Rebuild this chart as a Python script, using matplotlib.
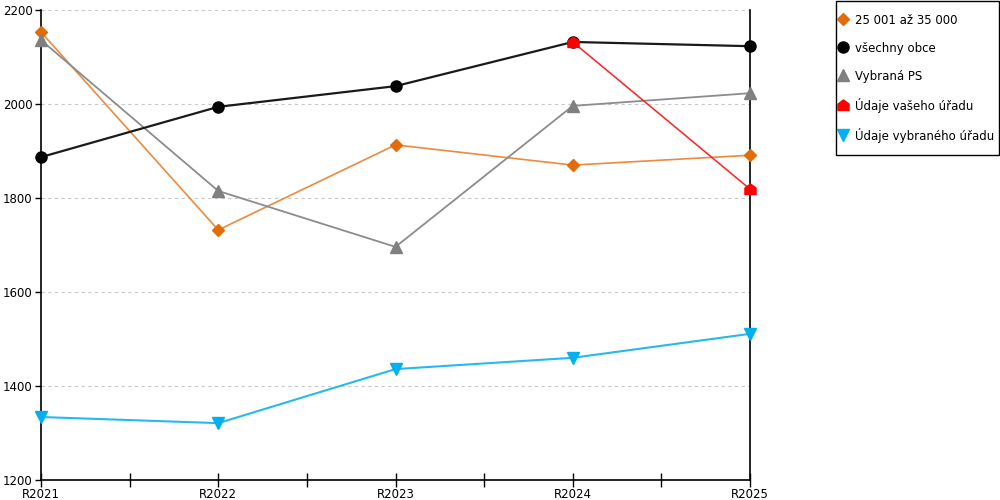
import matplotlib
matplotlib.use("Agg")
import matplotlib.pyplot as plt
from matplotlib.path import Path
from matplotlib.lines import Line2D
from matplotlib.patches import Rectangle

categories = ["R2021", "R2022", "R2023", "R2024", "R2025"]
s_orange = [2153, 1732, 1913, 1870, 1891]
s_black = [1887, 1994, 2038, 2132, 2123]
s_gray = [2136, 1815, 1696, 1996, 2023]
s_red = [None, None, None, 2132, 1819]
s_blue = [1334, 1321, 1436, 1460, 1511]

labels = ["25 001 až 35 000", "všechny obce", "Vybraná PS",
          "Údaje vašeho úřadu", "Údaje vybraného úřadu"]
yticks = [1200, 1400, 1600, 1800, 2000, 2200]

house = Path([(-1, -0.9), (1, -0.9), (1, 0.25), (0, 1), (-1, 0.25), (-1, -0.9)],
             [Path.MOVETO, Path.LINETO, Path.LINETO, Path.LINETO, Path.LINETO, Path.CLOSEPOLY])

plt.rcParams['font.family'] = ['DejaVu Sans']
fig = plt.figure(figsize=(10, 5), dpi=100)
ax = fig.add_axes([0.041, 0.04, 0.709, 0.94])

x = list(range(len(categories)))
ax.plot(x, s_orange, color="#EC8A3E", lw=1.2, marker="D", ms=6,
        mfc="#E36C0A", mec="#E36C0A", zorder=3, clip_on=False)
ax.plot(x, s_black, color="#1a1a1a", lw=1.6, marker="o", ms=8,
        mfc="black", mec="black", zorder=4, clip_on=False)
ax.plot(x, s_gray, color="#8c8c8c", lw=1.3, marker="^", ms=8,
        mfc="#808080", mec="#808080", zorder=3, clip_on=False)
xr = [i for i, v in zip(x, s_red) if v is not None]
yr = [v for v in s_red if v is not None]
ax.plot(xr, yr, color="#FF2020", lw=1.1, marker=house, ms=8,
        mfc="#FF0000", mec="#FF0000", zorder=5, clip_on=False)
ax.plot(x, s_blue, color="#28B8F0", lw=1.5, marker="v", ms=9,
        mfc="#00B0F0", mec="#00B0F0", zorder=3, clip_on=False)

ax.set_xlim(0, len(categories) - 1)
ax.set_ylim(1200, 2200)
ax.set_yticks(yticks)
ax.set_xticks(x)
ax.set_xticklabels(categories)
ax.set_xticks([i + 0.5 for i in x[:-1]], minor=True)
ax.tick_params(axis='x', which='both', direction='inout', length=10, width=1,
               labelsize=8.5, pad=1)
ax.tick_params(axis='y', which='major', direction='out', length=4, width=1,
               labelsize=8.5, pad=2)
ax.grid(axis='y', color="#c8c8c8", ls=(0, (3, 3)), lw=0.8)
for sp in ["left", "bottom", "right"]:
    ax.spines[sp].set_color("black")
    ax.spines[sp].set_linewidth(1.2)
ax.spines["top"].set_visible(False)

handles = [
    Line2D([], [], ls="none", marker="D", ms=6, mfc="#E36C0A", mec="#E36C0A"),
    Line2D([], [], ls="none", marker="o", ms=8, mfc="black", mec="black"),
    Line2D([], [], ls="none", marker="^", ms=8, mfc="#808080", mec="#808080"),
    Line2D([], [], ls="none", marker=house, ms=8, mfc="#FF0000", mec="#FF0000"),
    Line2D([], [], ls="none", marker="v", ms=9, mfc="#00B0F0", mec="#00B0F0"),
]
leg = fig.legend(handles, labels, loc="upper left", bbox_to_anchor=(0.835, 1 - 10 / 500),
                 frameon=False, fontsize=8.5,
                 handlelength=0.8, handletextpad=0.6, labelspacing=1.27,
                 borderpad=0.3, borderaxespad=0.0)
fig.patches.append(Rectangle((0.8355, 1 - 155 / 500), 0.1635, 154 / 500,
                             transform=fig.transFigure, fill=False,
                             edgecolor="black", lw=1.0))

fig.savefig("out.png", dpi=100)
